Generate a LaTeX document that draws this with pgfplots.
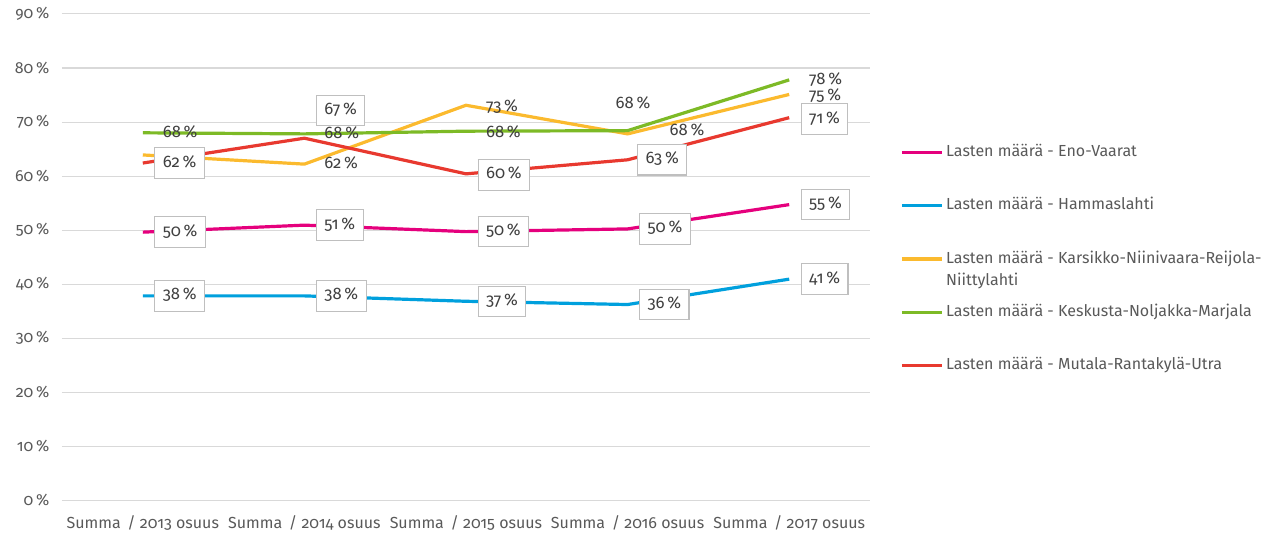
\documentclass[border=0pt]{standalone}
\usepackage{pgfplots}
\pgfplotsset{compat=1.18}
\usepackage{fontspec}
\setmainfont{Fira Sans}[Numbers=OldStyle]
\definecolor{eno}{HTML}{E5007D}
\definecolor{hamm}{HTML}{00A0DD}
\definecolor{kars}{HTML}{FBBA2E}
\definecolor{kesk}{HTML}{7DBA26}
\definecolor{muta}{HTML}{E8392F}
\definecolor{gridc}{HTML}{D9D9D9}
\definecolor{txt}{HTML}{595959}
\definecolor{lbltxt}{HTML}{404040}
\definecolor{boxc}{HTML}{BFBFBF}
\setlength{\fboxsep}{3.5pt}
\setlength{\fboxrule}{0.8pt}
% data label: type 1 = boxed, 0 = plain, -1 = hidden
\newcommand{\dlab}[2]{%
  \ifnum#1=1 \fcolorbox{boxc}{white}{\hspace{2pt}\strut#2\hspace{2pt}}%
  \else\ifnum#1=0 \hspace{6.3pt}\strut#2\fi\fi}

\begin{document}
\begin{tikzpicture}
\path[use as bounding box] (-46.5pt,-30pt) rectangle (913.5pt,375pt);
\begin{axis}[
  scale only axis,
  width=606pt, height=364.5pt,
  xmin=-0.5, xmax=4.5,
  ymin=0, ymax=90,
  xtick={0,...,4},
  xticklabels={Summa\hspace{5pt}/ 2013 osuus,Summa\hspace{5pt}/ 2014 osuus,Summa\hspace{5pt}/ 2015 osuus,Summa\hspace{5pt}/ 2016 osuus,Summa\hspace{5pt}/ 2017 osuus},
  ytick={0,10,...,90},
  /pgf/number format/assume math mode=true,
  yticklabel={\pgfmathprintnumber{\tick}\,\%},
  major tick length=0pt,
  axis line style={draw=none},
  ymajorgrids,
  grid style={gridc, line width=0.75pt},
  tick label style={font=\fontsize{12}{14.4}\selectfont, text=txt},
  yticklabel style={xshift=-6pt},
  xticklabel style={yshift=-8pt},
  every axis plot/.append style={line width=2.4pt, mark=none},
  point meta=y,
  visualization depends on={value \thisrow{dx} \as \ldx},
  visualization depends on={value \thisrow{dy} \as \ldy},
  visualization depends on={value \thisrow{b} \as \lbt},
  nodes near coords={\dlab{\lbt}{\pgfmathprintnumber[fixed,precision=0]{\pgfplotspointmeta}\,\%}},
  every node near coord/.append style={anchor=west, inner sep=0pt,
    xshift=\ldx pt, yshift=\ldy pt, text=lbltxt,
    font=\fontsize{12.5}{15}\selectfont},
  legend cell align=left,
  legend image code/.code={\draw[#1] (0pt,0pt) -- (30pt,0pt);},
  legend style={draw=none, fill=none, at={(1,0.5)}, anchor=west,
    xshift=22.5pt, yshift=-1.5pt, inner sep=0pt, row sep=28pt, column sep=2pt,
    font=\fontsize{12}{14.4}\selectfont, text=txt,
    nodes={inner sep=0pt, text height=9pt, text depth=3pt}},
]
\addplot[eno] table {
x y dx dy b
0 49.6 7.5 0 1
1 50.9 7.5 0 1
2 49.7 7.5 0 1
3 50.2 7.5 0 1
4 54.7 7.5 0 1
};
\addlegendentry{Lasten määrä - Eno-Vaarat}
\addplot[hamm] table {
x y dx dy b
0 37.8 7.5 0 1
1 37.8 7.5 0 1
2 36.8 7.5 0 1
3 36.2 7.5 0 1
4 40.9 7.5 0 1
};
\addlegendentry{Lasten määrä - Hammaslahti}
\addplot[kars] table {
x y dx dy b
0 63.9 7.5 0 -1
1 62.2 7.5 -0.5 0
2 73.1 7.5 -2 0
3 67.8 24 2 0
4 75.1 7.5 -1.2 0
};
\addlegendentry{\rlap{\raisebox{-16.5pt}[0pt][0pt]{Niittylahti}}Lasten määrä - Karsikko-Niinivaara-Reijola-}
\addplot[kesk] table {
x y dx dy b
0 68.0 7.5 -0.5 0
1 67.8 7.5 -0.5 0
2 68.3 7.5 -1.5 0
3 68.4 -16.5 19.5 0
4 77.8 7.5 -0.5 0
};
\addlegendentry{Lasten määrä - Keskusta-Noljakka-Marjala}
\addplot[muta] table {
x y dx dy b
0 62.4 7.5 0 1
1 67.0 7.5 20.6 1
2 60.4 7.5 -0.8 1
3 63.0 6 0 1
4 70.8 7.5 -1 1
};
\addlegendentry{Lasten määrä - Mutala-Rantakylä-Utra}
\end{axis}
\end{tikzpicture}
\end{document}
